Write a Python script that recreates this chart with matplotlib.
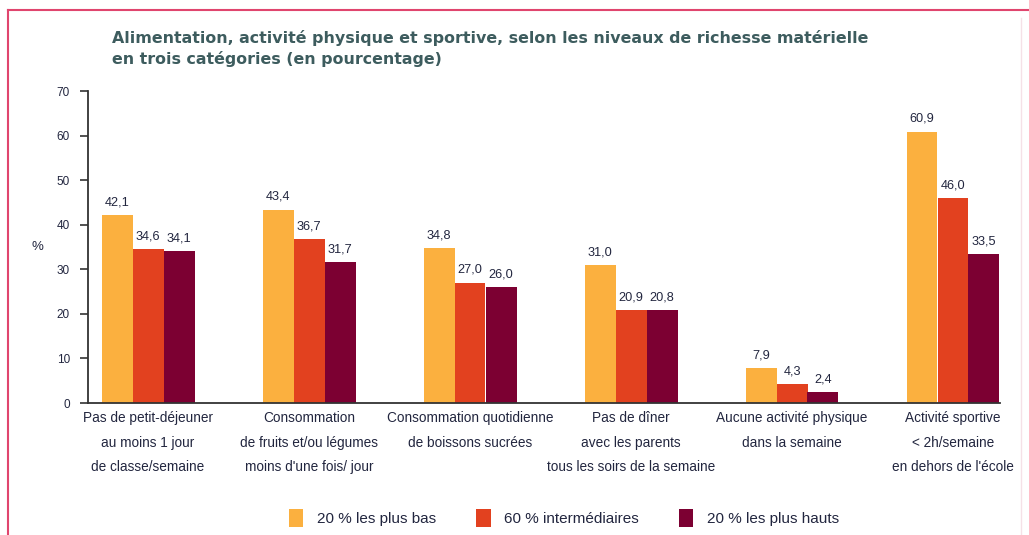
import matplotlib.pyplot as plt
import numpy as np
from matplotlib.lines import Line2D

# --- Data ---
categories = [
    "Pas de petit-déjeuner\nau moins 1 jour\nde classe/semaine",
    "Consommation\nde fruits et/ou légumes\nmoins d'une fois/ jour",
    "Consommation quotidienne\nde boissons sucrées",
    "Pas de dîner\navec les parents\ntous les soirs de la semaine",
    "Aucune activité physique\ndans la semaine",
    "Activité sportive\n< 2h/semaine\nen dehors de l'école",
]
series_names = ["20 % les plus bas", "60 % intermédiaires", "20 % les plus hauts"]
bas = [42.1, 43.4, 34.8, 31.0, 7.9, 60.9]
intermediaires = [34.6, 36.7, 27.0, 20.9, 4.3, 46.0]
hauts = [34.1, 31.7, 26.0, 20.8, 2.4, 33.5]
yticks = [0, 10, 20, 30, 40, 50, 60, 70]

colors = ["#FBB03F", "#E2411F", "#7C0032"]
TEXT = "#22263f"
NARROW = ["Liberation Sans", "DejaVu Sans"]

W, H = 1029, 535
fig = plt.figure(figsize=(W / 100, H / 100), dpi=100)
ax = fig.add_axes([88 / W, 1 - 403 / H, 912 / W, 312 / H])

x = np.arange(len(categories))
w = 31 / 161
for i, (vals, c, name) in enumerate(zip([bas, intermediaires, hauts], colors, series_names)):
    pos = x + (i - 1) * w
    ax.bar(pos, vals, width=w, color=c, label=name, edgecolor="none")
    for p, v in zip(pos, vals):
        ax.text(p, v + 1.5, f"{v:.1f}".replace(".", ","), ha="center", va="bottom",
                fontsize=9.2, color=TEXT, family=NARROW)

ax.set_xlim(-(148 - 88) / 161, 5 + (1000 - 953) / 161)
ax.set_ylim(0, 70)
ax.set_yticks(yticks)
ax.set_yticklabels([str(t) for t in yticks], family=NARROW, fontsize=8.5, color=TEXT)
ax.set_xticks(x)
ax.set_xticklabels(categories, family=NARROW, fontsize=9.8, color=TEXT, linespacing=1.95)
ax.tick_params(axis="x", length=0, pad=6)
ax.tick_params(axis="y", length=6, width=1.2, color="#333333", pad=7, direction="out")
for s in ["top", "right"]:
    ax.spines[s].set_visible(False)
for s in ["left", "bottom"]:
    ax.spines[s].set_color("#333333")
    ax.spines[s].set_linewidth(1.3)
ax.set_ylabel("%", rotation=0, family=NARROW, fontsize=9.5, color=TEXT, labelpad=14, va="center")

# Title
fig.text(112 / W, 1 - 30 / H,
         "Alimentation, activité physique et sportive, selon les niveaux de richesse matérielle\n"
         "en trois catégories (en pourcentage)",
         ha="left", va="top", fontsize=11.4, fontweight="bold", color="#3d5c5e",
         linespacing=1.4)

# Legend
fig.legend(loc="center", bbox_to_anchor=(564 / W, 1 - 518 / H), ncol=3, frameon=False,
           handlelength=0.95, handleheight=1.4, columnspacing=2.6, handletextpad=0.9,
           prop={"family": NARROW, "size": 11}, labelcolor=TEXT)

# Pink frame
fig.add_artist(Line2D([8 / W, 8 / W], [0, 1 - 10 / H], color="#e0456e", lw=1.5,
                      transform=fig.transFigure))
fig.add_artist(Line2D([8 / W, 1 - 0.5 / W], [1 - 10 / H, 1 - 10 / H], color="#e0456e", lw=1.5,
                      transform=fig.transFigure))
fig.add_artist(Line2D([1021 / W, 1021 / W], [0, 1 - 18 / H], color="#f5e1e7", lw=1.0,
                      transform=fig.transFigure))

fig.savefig("out.png", dpi=100)
